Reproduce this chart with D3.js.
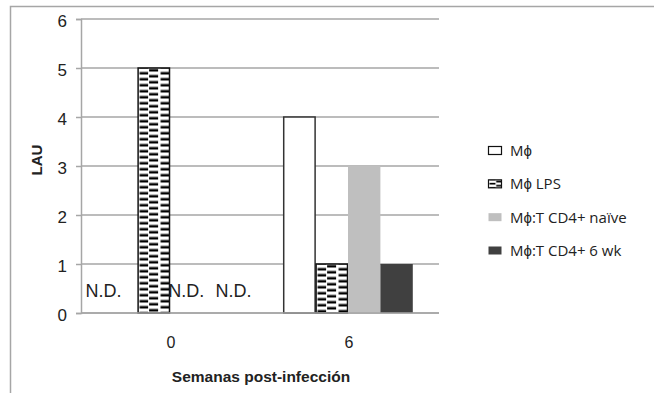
<!DOCTYPE html>
<html>
<head>
<meta charset="utf-8">
<script src="https://cdn.jsdelivr.net/npm/d3@7"></script>
<style>
  html, body { margin: 0; padding: 0; background: #fff; }
  svg { display: block; }
</style>
</head>
<body>
<svg id="chart" width="654" height="393"></svg>
<script>
// Weeks after infection (x categories)
const weeks = ["0", "6"];
// Macrophage groups (series)
const series = ["Mϕ", "Mϕ LPS", "Mϕ:T CD4+ naïve", "Mϕ:T CD4+ 6 wk"];
// LAU per series, one value per week
const valMphi   = [0, 4];
const valLps    = [5, 1];
const valNaive  = [0, 3];
const valSixWk  = [0, 1];
// Not-detected flags per series, one per week
const ndMphi  = [true, false];
const ndLps   = [false, false];
const ndNaive = [true, false];
const ndSixWk = [true, false];
const yTicks = [0, 1, 2, 3, 4, 5, 6];
const yTitle = "LAU";
const xTitle = "Semanas post-infección";
const ndText = "N.D.";

const values = [valMphi, valLps, valNaive, valSixWk];
const ndFlags = [ndMphi, ndLps, ndNaive, ndSixWk];

const fills   = ["#ffffff", "url(#lps)", "#bfbfbf", "#404040"];
const strokes = ["#333333", "#111111", "none", "none"];
// horizontal nudges for the N.D. captions, per series
const ndShift = [-18, 0, 0, 15];

const svg = d3.select("#chart");
const plot = { left: 81, right: 437, top: 19, bottom: 313 };

// chart-area frame (open on right and bottom)
svg.append("path")
  .attr("d", "M10.5,393V6.5H654")
  .attr("fill", "none").attr("stroke", "#a6a6a6").attr("stroke-width", 1.5);

const x0 = d3.scaleBand().domain(weeks)
  .range([plot.left, plot.right])
  .paddingInner(0.272).paddingOuter(0.136);
const x1 = d3.scaleBand().domain(series).range([0, x0.bandwidth()]);
const y = d3.scaleLinear().domain([0, 6]).range([plot.bottom, plot.top]);

// dashed fill for the LPS series, one tile per bar so it lines up with each bar
const defs = svg.append("defs");
function addPattern(id, ox, oy, sx) {
  const p = defs.append("pattern").attr("id", id)
    .attr("patternUnits", "userSpaceOnUse")
    .attr("x", ox).attr("y", oy)
    .attr("width", 21 * sx).attr("height", 6 * sx);
  p.append("rect").attr("width", 21 * sx).attr("height", 6 * sx).attr("fill", "#fff");
  p.append("rect").attr("x", 11 * sx).attr("y", 0.5 * sx).attr("width", 9 * sx).attr("height", 2.5 * sx).attr("fill", "#000");
  p.append("rect").attr("x", 1.5 * sx).attr("y", 3.5 * sx).attr("width", 8.5 * sx).attr("height", 2.5 * sx).attr("fill", "#000");
}

// gridlines
svg.append("g").selectAll("line").data(yTicks).join("line")
  .attr("x1", plot.left).attr("x2", plot.right + 2)
  .attr("y1", d => y(d)).attr("y2", d => y(d))
  .attr("stroke", "#a6a6a6").attr("stroke-width", 1.5);

// y axis
const yAxis = svg.append("g").attr("transform", `translate(${plot.left},0)`)
  .call(d3.axisLeft(y).tickValues(yTicks).tickSize(5).tickPadding(9).tickFormat(d3.format("d")));
yAxis.select(".domain").attr("stroke", "#a6a6a6").attr("stroke-width", 1.5);
yAxis.selectAll(".tick line").attr("stroke", "#a6a6a6").attr("stroke-width", 1.5);
yAxis.selectAll(".tick text")
  .attr("font-family", "'Liberation Sans', Arial, sans-serif")
  .attr("font-size", 17).attr("fill", "#222").attr("dy", "0.42em");

// bars
const rows = [];
weeks.forEach((w, wi) => series.forEach((s, si) => {
  rows.push({ week: w, wi, s, si, v: values[si][wi], nd: ndFlags[si][wi] });
}));

const bars = svg.append("g");
rows.filter(d => !d.nd).forEach((d, k) => {
  const bx = x0(d.week) + x1(d.s);
  let fill = fills[d.si];
  if (d.si === 1) {
    const id = "lps-" + k;
    addPattern(id, bx + 0.5, y(d.v) + 0.5, 1);
    fill = `url(#${id})`;
  }
  bars.append("rect")
    .attr("x", bx + (strokes[d.si] === "none" ? 0 : 0.5))
    .attr("y", y(d.v))
    .attr("width", x1.bandwidth() - (strokes[d.si] === "none" ? 0 : 1))
    .attr("height", y(0) - y(d.v))
    .attr("fill", fill)
    .attr("stroke", strokes[d.si])
    .attr("stroke-width", 1.5);
});

// N.D. captions
svg.append("g").selectAll("text").data(rows.filter(d => d.nd)).join("text")
  .attr("x", d => x0(d.week) + x1(d.s) + x1.bandwidth() / 2 + ndShift[d.si])
  .attr("y", y(0) - 16)
  .attr("text-anchor", "middle")
  .attr("font-family", "'Liberation Sans Narrow', 'Arial Narrow', sans-serif")
  .attr("font-size", 18).attr("fill", "#222")
  .text(ndText);

// x baseline
svg.append("line")
  .attr("x1", plot.left).attr("x2", plot.right + 2)
  .attr("y1", y(0)).attr("y2", y(0))
  .attr("stroke", "#a6a6a6").attr("stroke-width", 1.5);

// x category labels
svg.append("g").selectAll("text").data(weeks).join("text")
  .attr("x", d => x0(d) + x0.bandwidth() / 2 + 1)
  .attr("y", 348)
  .attr("text-anchor", "middle")
  .attr("font-family", "'Liberation Sans', Arial, sans-serif")
  .attr("font-size", 16).attr("fill", "#222")
  .text(d => d);

// axis titles
svg.append("text")
  .attr("x", 261).attr("y", 382)
  .attr("text-anchor", "middle")
  .attr("font-family", "'Liberation Sans', Arial, sans-serif")
  .attr("font-weight", "bold").attr("font-size", 15.5).attr("fill", "#222")
  .text(xTitle);

svg.append("text")
  .attr("transform", "translate(42,160) rotate(-90)")
  .attr("text-anchor", "middle")
  .attr("font-family", "'Liberation Sans', Arial, sans-serif")
  .attr("font-weight", "bold").attr("font-size", 15).attr("fill", "#222")
  .text(yTitle);

// legend
const legendY = d3.scalePoint().domain(series).range([151, 251]);
const legend = svg.append("g");
series.forEach((s, si) => {
  const cy = legendY(s);
  let fill = fills[si];
  if (si === 1) {
    addPattern("lps-key", 488.5, cy - 4, 0.7);
    fill = "url(#lps-key)";
  }
  legend.append("rect")
    .attr("x", 488.5).attr("y", cy - 4.5)
    .attr("width", 13).attr("height", 8)
    .attr("fill", fill)
    .attr("stroke", strokes[si] === "none" ? "none" : "#111")
    .attr("stroke-width", 1.2);
  legend.append("text")
    .attr("x", 510).attr("y", cy + 5)
    .attr("font-family", "'Open Sans', sans-serif")
    .attr("font-size", 15).attr("fill", "#222")
    .text(s);
});
</script>
</body>
</html>
